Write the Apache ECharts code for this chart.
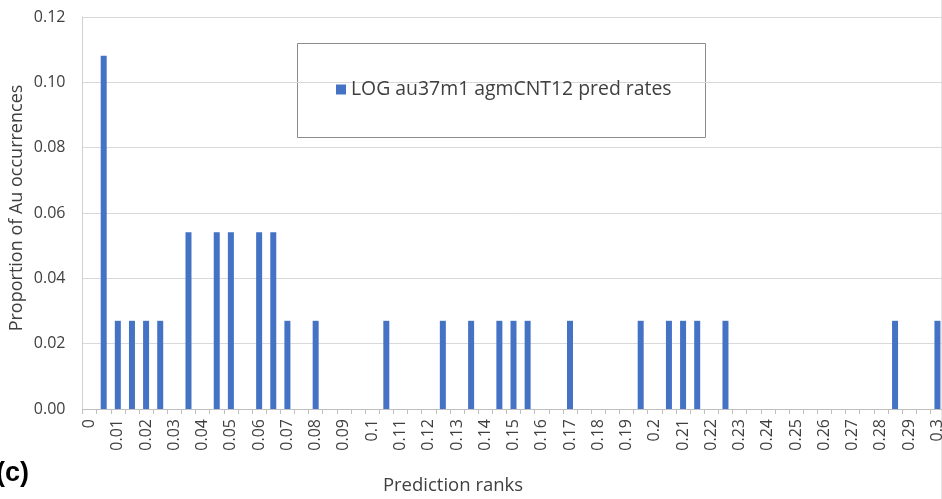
<!DOCTYPE html>
<html>
<head>
<meta charset="utf-8">
<script src="https://cdn.jsdelivr.net/npm/echarts@6/dist/echarts.min.js"></script>
<style>
  html, body { margin: 0; padding: 0; background: #fff; }
  #chart { width: 942px; height: 499px; }
</style>
</head>
<body>
<div id="chart"></div>
<script>
// Prediction rank bins (step 0.005); only every other bin is labelled
const rankBins = [
  "0", "0.005", "0.01", "0.015", "0.02", "0.025", "0.03", "0.035", "0.04", "0.045",
  "0.05", "0.055", "0.06", "0.065", "0.07", "0.075", "0.08", "0.085", "0.09", "0.095",
  "0.1", "0.105", "0.11", "0.115", "0.12", "0.125", "0.13", "0.135", "0.14", "0.145",
  "0.15", "0.155", "0.16", "0.165", "0.17", "0.175", "0.18", "0.185", "0.19", "0.195",
  "0.2", "0.205", "0.21", "0.215", "0.22", "0.225", "0.23", "0.235", "0.24", "0.245",
  "0.25", "0.255", "0.26", "0.265", "0.27", "0.275", "0.28", "0.285", "0.29", "0.295",
  "0.3"
];

// Proportion of Au occurrences falling in each bin
const auProportion = [
  0, 0.1081, 0.027, 0.027, 0.027, 0.027, 0, 0.0541, 0, 0.0541,
  0.0541, 0, 0.0541, 0.0541, 0.027, 0, 0.027, 0, 0, 0,
  0, 0.027, 0, 0, 0, 0.027, 0, 0.027, 0, 0.027,
  0.027, 0.027, 0, 0, 0.027, 0, 0, 0, 0, 0.027,
  0, 0.027, 0.027, 0.027, 0, 0.027, 0, 0, 0, 0,
  0, 0, 0, 0, 0, 0, 0, 0.027, 0, 0,
  0.027
];

const seriesName = "LOG au37m1 agmCNT12 pred rates";
const xTitle = "Prediction ranks";
const yTitle = "Proportion of Au occurrences";
const panelTag = "(c)";

const FONT = "Open Sans";
const TEXT = "#404040";

const chart = echarts.init(document.getElementById("chart"), null, { renderer: "canvas" });

chart.setOption({
  animation: false,
  backgroundColor: "#ffffff",
  textStyle: { fontFamily: FONT },
  grid: {
    left: 82.5, top: 17, width: 862, height: 392,
    containLabel: false,
    outerBoundsMode: "none"
  },
  legend: {
    data: [seriesName],
    left: 336,
    top: 80,
    orient: "horizontal",
    padding: [0, 0, 0, 0],
    itemWidth: 10,
    itemHeight: 10,
    itemGap: 5,
    icon: "rect",
    textStyle: { fontFamily: FONT, fontSize: 19.4, color: TEXT }
  },
  xAxis: {
    type: "category",
    data: rankBins,
    boundaryGap: true,
    axisLine: { show: true, lineStyle: { color: "#bfbfbf", width: 1 } },
    axisTick: { show: true, interval: 0, length: 5, lineStyle: { color: "#bfbfbf" } },
    axisLabel: {
      interval: 1,
      rotate: 90,
      margin: 10,
      fontFamily: FONT,
      fontSize: 16,
      color: TEXT
    },
    splitLine: { show: false }
  },
  yAxis: {
    type: "value",
    min: 0,
    max: 0.12,
    interval: 0.02,
    axisLine: { show: true, lineStyle: { color: "#d0d0d0", width: 1 } },
    axisTick: { show: false },
    axisLabel: {
      margin: 17,
      fontFamily: FONT,
      fontSize: 16,
      color: TEXT,
      formatter: v => v.toFixed(2)
    },
    splitLine: { show: true, lineStyle: { color: "#d9d9d9", width: 1 } }
  },
  series: [{
    name: seriesName,
    type: "bar",
    data: auProportion,
    barWidth: 6,
    itemStyle: { color: "#4472c4" }
  }],
  graphic: [
    {
      // legend frame
      type: "rect",
      z: -1,
      shape: { x: 297.5, y: 43.5, width: 408, height: 94 },
      style: { fill: "#ffffff", stroke: "#8c8c8c", lineWidth: 1 }
    },
    {
      // x-axis title
      type: "text",
      x: 453,
      y: 486,
      style: {
        text: xTitle, fontFamily: FONT, fontSize: 18.5, fill: TEXT,
        align: "center", verticalAlign: "middle"
      }
    },
    {
      // y-axis title
      type: "text",
      x: 17,
      y: 208,
      rotation: Math.PI / 2,
      style: {
        text: yTitle, fontFamily: FONT, fontSize: 18, fill: TEXT,
        align: "center", verticalAlign: "middle"
      }
    },
    {
      type: "text",
      left: -4,
      top: 460,
      style: { text: panelTag, fontFamily: "Liberation Sans", fontWeight: "bold", fontSize: 27, fill: "#000" }
    },
    {
      type: "line",
      shape: { x1: 941.5, y1: 0, x2: 941.5, y2: 499 },
      style: { stroke: "#e6e6e6", lineWidth: 1 }
    }
  ]
});
</script>
</body>
</html>
